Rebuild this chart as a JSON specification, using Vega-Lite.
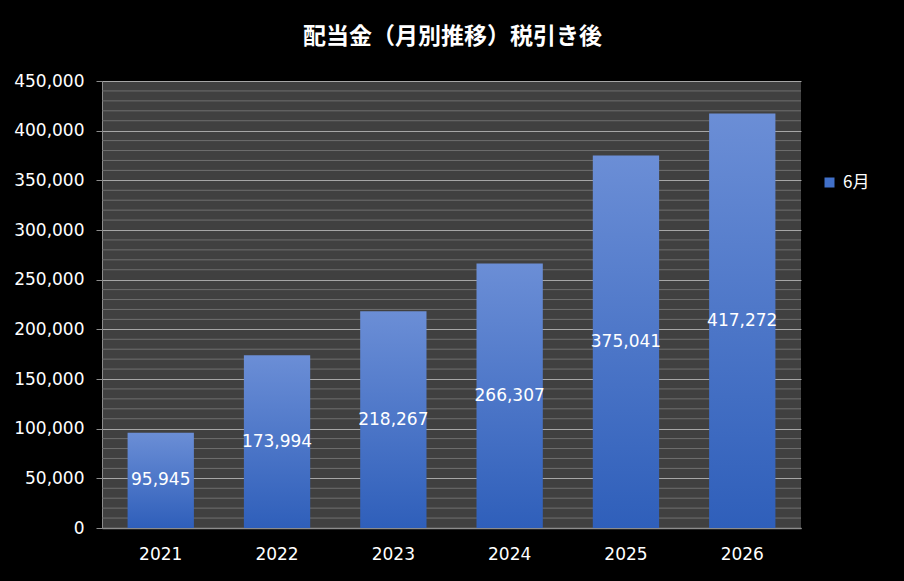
{
  "$schema": "https://vega.github.io/schema/vega-lite/v6.json",
  "width": 699,
  "height": 447,
  "autosize": {"type": "none"},
  "padding": {"left": 102, "top": 81, "right": 103, "bottom": 53},
  "background": "#000000",
  "config": {
    "font": "Noto Sans CJK JP",
    "view": {"fill": "#404040", "stroke": null}
  },
  "title": {
    "text": "配当金（月別推移）税引き後",
    "color": "#ffffff",
    "fontSize": 23,
    "fontWeight": "bold",
    "font": "Noto Sans CJK JP",
    "anchor": "middle",
    "frame": "group",
    "offset": 23,
    "dx": 1
  },
  "data": {
    "values": [
      {"year": "2021", "month": "6月", "amount": 95945},
      {"year": "2022", "month": "6月", "amount": 173994},
      {"year": "2023", "month": "6月", "amount": 218267},
      {"year": "2024", "month": "6月", "amount": 266307},
      {"year": "2025", "month": "6月", "amount": 375041},
      {"year": "2026", "month": "6月", "amount": 417272}
    ]
  },
  "layer": [
    {
      "layer": [
        {
          "mark": {"type": "rule", "color": "#6e6e6e", "strokeWidth": 1},
          "data": {"values": [
            {"v": 10000},{"v": 20000},{"v": 30000},{"v": 40000},
            {"v": 60000},{"v": 70000},{"v": 80000},{"v": 90000},
            {"v": 110000},{"v": 120000},{"v": 130000},{"v": 140000},
            {"v": 160000},{"v": 170000},{"v": 180000},{"v": 190000},
            {"v": 210000},{"v": 220000},{"v": 230000},{"v": 240000},
            {"v": 260000},{"v": 270000},{"v": 280000},{"v": 290000},
            {"v": 310000},{"v": 320000},{"v": 330000},{"v": 340000},
            {"v": 360000},{"v": 370000},{"v": 380000},{"v": 390000},
            {"v": 410000},{"v": 420000},{"v": 430000},{"v": 440000}
          ]},
          "encoding": {
            "y": {"field": "v", "type": "quantitative", "scale": {"domain": [0, 450000], "nice": false}}
          }
        },
        {
          "mark": {
            "type": "bar",
            "color": {
              "gradient": "linear",
              "x1": 0, "y1": 0, "x2": 0, "y2": 1,
              "stops": [
                {"offset": 0, "color": "#6b8ed6"},
                {"offset": 1, "color": "#2f5fba"}
              ]
            }
          },
          "encoding": {
            "x": {
              "field": "year", "type": "nominal",
              "scale": {"paddingInner": 0.43, "paddingOuter": 0.22},
              "axis": {
                "title": null, "labelAngle": 0, "labelColor": "#ffffff", "labelFontSize": 17,
                "labelPadding": 18, "ticks": false, "domainColor": "#8c8c8c", "domainWidth": 1.5,
                "labelFont": "DejaVu Sans"
              }
            },
            "y": {
              "field": "amount", "type": "quantitative",
              "scale": {"domain": [0, 450000], "nice": false},
              "axis": {
                "title": null, "values": [0, 50000, 100000, 150000, 200000, 250000, 300000, 350000, 400000, 450000],
                "format": ",d", "labelColor": "#ffffff", "labelFontSize": 17, "labelPadding": 12,
                "tickColor": "#8c8c8c", "tickSize": 6, "domainColor": "#8c8c8c",
                "gridColor": "#a6a6a6", "gridWidth": 1, "grid": true,
                "labelFont": "DejaVu Sans"
              }
            }
          }
        },
        {
          "mark": {"type": "square", "opacity": 0, "size": 1},
          "encoding": {
            "x": {"field": "year", "type": "nominal"},
            "y": {"field": "amount", "type": "quantitative"},
            "fill": {
              "field": "month", "type": "nominal",
              "scale": {"range": ["#4170c9"]},
              "legend": {
                "title": null, "orient": "none", "legendX": 719, "legendY": 93,
                "symbolType": "square", "symbolSize": 100, "symbolOpacity": 1, "labelColor": "#ffffff",
                "labelFontSize": 17, "labelFont": "Noto Sans CJK JP", "labelOffset": 5
              }
            }
          }
        }
      ]
    },
    {
      "mark": {"type": "text", "color": "#ffffff", "fontSize": 17, "font": "DejaVu Sans"},
      "encoding": {
        "x": {"field": "year", "type": "nominal"},
        "y": {"field": "amount", "type": "quantitative", "scale": {"domain": [0, 900000], "nice": false}, "axis": null},
        "text": {"field": "amount", "type": "quantitative", "format": ",d"}
      }
    }
  ],
  "resolve": {"scale": {"y": "independent"}}
}
